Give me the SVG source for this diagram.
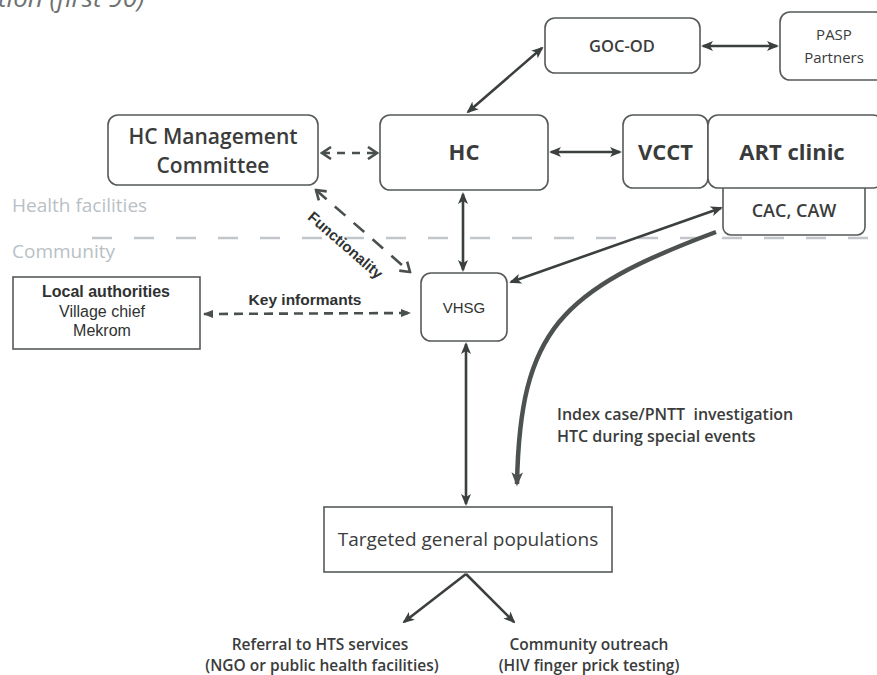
<svg xmlns="http://www.w3.org/2000/svg" width="877" height="675" viewBox="0 0 877 675">
<style>
.box{fill:#fff;stroke:#555a59;stroke-width:1.6}
.t{font-family:"Open Sans","Noto Sans",sans-serif;fill:#3a3c3c;text-anchor:middle}
.a{font-family:"Liberation Sans",Arial,sans-serif;fill:#2f3231;text-anchor:middle}
.lg{font-family:"Open Sans","Noto Sans",sans-serif;fill:#b9c0c5;font-size:19px}
.c{fill:none;stroke:#3b403f;stroke-width:2.6}
.d{fill:none;stroke:#4a504f;stroke-width:2.6}
</style>
<defs>
<marker id="ah" viewBox="0 0 12 10" refX="10" refY="5" markerWidth="12" markerHeight="10" markerUnits="userSpaceOnUse" orient="auto-start-reverse">
<path d="M0,0 L12,5 L0,10 L3,5 z" fill="#3b403f"/>
</marker>
<marker id="ahb" viewBox="0 0 12 10" refX="10" refY="5" markerWidth="14" markerHeight="12" markerUnits="userSpaceOnUse" orient="auto-start-reverse">
<path d="M0,0 L12,5 L0,10 L3,5 z" fill="#4d5251"/>
</marker>
<marker id="chev" viewBox="0 0 12 14" refX="10" refY="7" markerWidth="12" markerHeight="14" markerUnits="userSpaceOnUse" orient="auto-start-reverse">
<path d="M1,1 L10,7 L1,13" fill="none" stroke="#4a504f" stroke-width="2.6"/>
</marker>
<marker id="tri" viewBox="0 0 10 8" refX="9" refY="4" markerWidth="10" markerHeight="8" markerUnits="userSpaceOnUse" orient="auto-start-reverse">
<path d="M0,0 L10,4 L0,8 z" fill="#4a504f"/>
</marker>
</defs>
<rect width="877" height="675" fill="#fff"/>
<text x="-2" y="7" font-family="'Open Sans','Noto Sans',sans-serif" font-style="italic" font-size="26" fill="#6f7272">tion (first 90)</text>

<text class="lg" x="12" y="212">Health facilities</text>
<text class="lg" x="12" y="258">Community</text>
<line x1="92" y1="238" x2="877" y2="238" stroke="#c2c6ca" stroke-width="2.5" stroke-dasharray="20 22"/>

<g id="goc-od"><rect class="box" x="545" y="18" width="155" height="55" rx="10"/><text class="t" x="622" y="52" font-size="16.5" font-weight="600">GOC-OD</text></g>
<g id="pasp"><rect class="box" x="780" y="12" width="105" height="68" rx="10"/><text class="t" x="834" y="40" font-size="15">PASP</text><text class="t" x="834" y="63" font-size="15">Partners</text></g>
<g id="hcm"><rect class="box" x="108" y="115" width="210" height="70" rx="10"/><text class="t" x="213" y="144" font-size="21" font-weight="600">HC Management</text><text class="t" x="213" y="173" font-size="21" font-weight="600">Committee</text></g>
<g id="hc"><rect class="box" x="380" y="115" width="168" height="75" rx="10"/><text class="t" x="464" y="160" font-size="22" font-weight="700">HC</text></g>
<g id="vcct"><rect class="box" x="623" y="115" width="85" height="73" rx="10"/><text class="t" x="665.5" y="160" font-size="22" font-weight="700">VCCT</text></g>
<g id="cac"><rect class="box" x="723" y="180" width="142" height="55" rx="8"/><text class="t" x="794" y="217" font-size="18" font-weight="600">CAC, CAW</text></g>
<g id="art"><rect class="box" x="708" y="115" width="175" height="73" rx="10"/><text class="t" x="792" y="160" font-size="22" font-weight="700">ART clinic</text></g>
<g id="local"><rect class="box" x="13" y="277" width="187" height="72"/><text class="a" x="106" y="297" font-size="16" font-weight="700">Local authorities</text><text class="a" x="102" y="317" font-size="16">Village chief</text><text class="a" x="102" y="336" font-size="16">Mekrom</text></g>
<g id="vhsg"><rect class="box" x="421" y="273" width="86" height="68" rx="10"/><text class="a" x="464" y="313" font-size="15">VHSG</text></g>
<g id="targeted"><rect class="box" x="324" y="507" width="288" height="65"/><text class="t" x="468" y="546" font-size="19">Targeted general populations</text></g>
<g id="referral"><text class="t" x="320" y="650" font-size="15.5" font-weight="600">Referral to HTS services</text><text class="t" x="322" y="671" font-size="15.5" font-weight="600">(NGO or public health facilities)</text></g>
<g id="outreach"><text class="t" x="589" y="650" font-size="15.5" font-weight="600">Community outreach</text><text class="t" x="589" y="671" font-size="15.5" font-weight="600">(HIV finger prick testing)</text></g>

<g id="connectors">
<path class="c" d="M468,112 L542,48" marker-start="url(#ah)" marker-end="url(#ah)"/>
<path class="c" d="M703,46 L777,46" marker-start="url(#ah)" marker-end="url(#ah)"/>
<path class="c" d="M551,152 L620,152" marker-start="url(#ah)" marker-end="url(#ah)"/>
<path class="c" d="M463,194 L463,270" marker-start="url(#ah)" marker-end="url(#ah)"/>
<path class="c" d="M721,208 L511,282" marker-start="url(#ah)" marker-end="url(#ah)"/>
<path class="c" d="M466,344 L466,504" marker-start="url(#ah)" marker-end="url(#ah)"/>
<path d="M716,232 C560,290 520,330 517,484" fill="none" stroke="#4d5251" stroke-width="4.5" marker-end="url(#ahb)"/>
<path class="c" d="M466,574 L404,622" marker-end="url(#ah)"/>
<path class="c" d="M466,574 L514,622" marker-end="url(#ah)"/>
<path class="d" d="M322,153 L377,153" stroke-dasharray="8 7" marker-start="url(#chev)" marker-end="url(#chev)"/>
<path class="d" d="M316,190 L410,272" stroke-dasharray="14 11" marker-start="url(#chev)" marker-end="url(#chev)"/>
<path class="d" d="M204,314 L410,313" stroke-dasharray="9 6" marker-start="url(#tri)" marker-end="url(#tri)"/>
<text class="a" x="305" y="305" font-size="15.5" font-weight="700">Key informants</text>
<text class="a" x="0" y="0" font-size="15" font-weight="700" transform="translate(342,249) rotate(41)">Functionality</text>
<text class="t" x="557" y="420" font-size="16" font-weight="600" style="text-anchor:start">Index case/PNTT&#160; investigation</text>
<text class="t" x="557" y="442" font-size="16" font-weight="600" style="text-anchor:start">HTC during special events</text>
</g>
</svg>
